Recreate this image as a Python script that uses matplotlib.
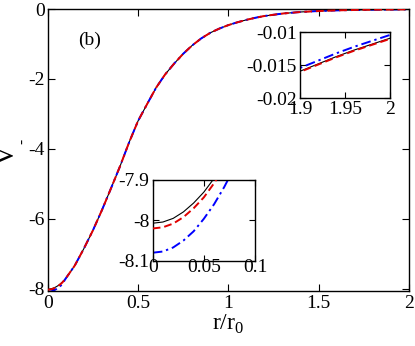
import numpy as np
import matplotlib
matplotlib.use("Agg")
import matplotlib.pyplot as plt

plt.rcParams['font.family'] = ['Liberation Serif', 'DejaVu Serif']
plt.rcParams['mathtext.fontset'] = 'custom'
plt.rcParams['mathtext.rm'] = 'Liberation Serif'

# near the origin
r_head = [0.0, 0.01, 0.02, 0.03, 0.04, 0.05, 0.06, 0.07, 0.08]
v_head_black = [-8.007, -8.004, -7.995, -7.979, -7.957, -7.930, -7.896, -7.856, -7.810]
v_head_red = [-8.020, -8.017, -8.008, -7.992, -7.970, -7.943, -7.908, -7.868, -7.823]
v_head_blue = [-8.080, -8.077, -8.067, -8.050, -8.027, -7.996, -7.960, -7.917, -7.868]

# body of the curve, the three results lie on top of each other here
r_core = [0.10, 0.15, 0.20, 0.25, 0.30, 0.35, 0.40, 0.45, 0.50, 0.55, 0.60,
          0.65, 0.70, 0.75, 0.80, 0.85, 0.90, 0.95, 1.00, 1.05, 1.10, 1.15,
          1.20, 1.30, 1.40, 1.50, 1.60, 1.70, 1.80]
v_core = [-7.70, -7.33, -6.85, -6.33, -5.75, -5.13, -4.50, -3.82, -3.20, -2.72, -2.25,
          -1.87, -1.56, -1.28, -1.04, -0.84, -0.68, -0.56, -0.46, -0.38, -0.31, -0.25,
          -0.20, -0.13, -0.085, -0.058, -0.040, -0.028, -0.020]

# tail
r_tail = [1.90, 1.92, 1.94, 1.96, 1.98, 2.00]
v_tail_black = [-0.0159, -0.0148, -0.0137, -0.0127, -0.0118, -0.0109]
v_tail_red = [-0.0160, -0.0149, -0.0138, -0.0128, -0.0119, -0.0110]
v_tail_blue = [-0.0154, -0.0143, -0.0132, -0.0122, -0.0113, -0.0104]

r_all = r_head + r_core + r_tail
black = v_head_black + v_core + v_tail_black
red = v_head_red + v_core + v_tail_red
blue = v_head_blue + v_core + v_tail_blue

W, H = 415, 346
fig = plt.figure(figsize=(W / 100, H / 100), dpi=100)

def px_axes(x0, y0, x1, y1):
    return fig.add_axes([x0 / W, 1 - y1 / H, (x1 - x0) / W, (y1 - y0) / H])

def draw(ax):
    ax.plot(r_all, black, color='black', lw=0.8, zorder=1)
    ax.plot(r_all, blue, color='blue', lw=1.4, ls=(0, (5, 2, 1.2, 2)), zorder=2)
    ax.plot(r_all, red, color='#e00000', lw=1.4, ls=(0, (4, 2)), zorder=3)

def style(ax, size, xpad, ypad, tlen):
    ax.tick_params(direction='in', top=True, right=True, length=tlen, width=0.8,
                   labelsize=size, colors='black')
    ax.tick_params(axis='x', pad=xpad)
    ax.tick_params(axis='y', pad=ypad)
    for s in ax.spines.values():
        s.set_linewidth(1.0)

# main panel
ax = px_axes(47.7, 9, 409, 290.5)
draw(ax)
ax.set_xlim(0, 2)
ax.set_ylim(-8.045, 0)
ax.set_xticks([0, 0.5, 1, 1.5, 2])
ax.set_xticklabels(['0', '0.5', '1', '1.5', '2'])
ax.set_yticks([0, -2, -4, -6, -8])
ax.set_yticklabels(['0', '-2', '-4', '-6', '-8'])
style(ax, 14, 3.5, 2, 5)
ax.set_xlabel(r'r/r$_\mathregular{0}$', fontsize=17, labelpad=0)
ax.set_ylabel('V', fontsize=20, labelpad=0)
ax.yaxis.set_label_coords(-0.077, 0.48)
# small mark next to the V, as in the original
fig.text(22.5 / W, 1 - 141 / H, '-', fontsize=11, rotation=90,
         ha='center', va='center')
ax.text(0.117, 0.89, '(b)', transform=ax.transAxes, fontsize=14,
        ha='center', va='center')

# upper inset: tail
ax1 = px_axes(300, 32.3, 390, 98.3)
draw(ax1)
ax1.set_xlim(1.9, 2)
ax1.set_ylim(-0.02, -0.01)
ax1.set_xticks([1.9, 1.95, 2])
ax1.set_xticklabels(['1.9', '1.95', '2'])
ax1.set_yticks([-0.02, -0.015, -0.01])
ax1.set_yticklabels(['-0.02', '-0.015', '-0.01'])
style(ax1, 14, 2, 2.5, 4)

# lower inset: near the origin
ax2 = px_axes(152.7, 180, 255, 260.8)
draw(ax2)
ax2.set_xlim(0, 0.1)
ax2.set_ylim(-8.1, -7.9)
ax2.set_xticks([0, 0.05, 0.1])
ax2.set_xticklabels(['0', '0.05', '0.1'])
ax2.set_yticks([-8.1, -8, -7.9])
ax2.set_yticklabels(['-8.1', '-8', '-7.9'])
style(ax2, 14, -1.5, 2.5, 4)

fig.savefig('out.png', dpi=100)
